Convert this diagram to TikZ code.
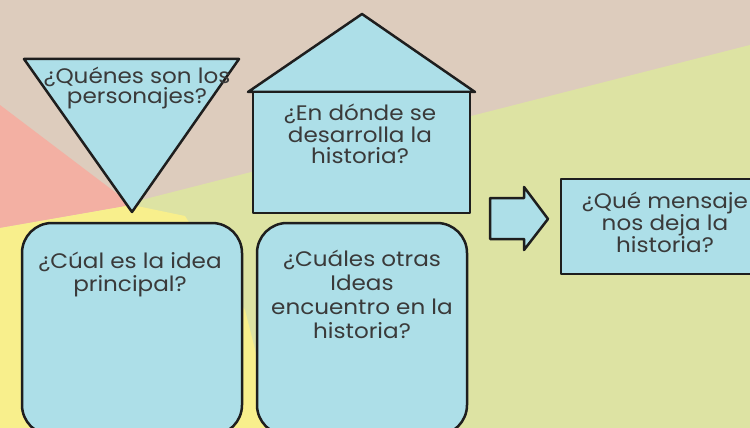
\documentclass[tikz,border=0pt]{standalone}
\usepackage{fontspec}
\setmainfont{Poppins}[FakeStretch=1.1]
\definecolor{bgBeige}{HTML}{DDCCBD}
\definecolor{bgGreen}{HTML}{DDE3A3}
\definecolor{bgPink}{HTML}{F3B0A3}
\definecolor{bgYellow}{HTML}{F8EF8C}
\definecolor{boxBlue}{HTML}{ADDFE8}
\definecolor{inkGray}{HTML}{1E1E1E}
\definecolor{textGray}{HTML}{3A3A3A}
\begin{document}
\begin{tikzpicture}
  [
    x=1pt, y=-1pt,
    line cap=round, line join=round,
    card/.style={draw=inkGray, line width=2.5pt, fill=boxBlue},
    txt/.style={text=textGray, align=center, inner sep=0pt,
      font=\fontsize{21}{21}\selectfont},
  ]

\useasboundingbox (0,0) rectangle (750,428);
\clip (0,0) rectangle (750,428);

% background
\fill[bgBeige] (0,0) rectangle (750,428);
\fill[bgGreen] (750,45) -- (750,428) -- (0,428) -- (0,236) -- cycle;
\fill[bgPink] (0,105) -- (132,205) -- (0,228) -- cycle;
\fill[bgYellow] (0,228) -- (132,205) -- (185,216) -- (245,310) -- (275,428) -- (0,428) -- cycle;

\def\rad{30pt}

% personajes
\coordinate (triNW) at (24,59);
\coordinate (triNE) at (239,59);
\coordinate (triS) at (132,212);
\draw[card] (triNW) -- (triNE) -- (triS) -- cycle;
\node[txt, font=\fontsize{21}{20}\selectfont] (personajes) at (137,88) {¿Quénes son los\\personajes?};

% lugar
\coordinate (roof) at (362,14);
\draw[card] (248,92) -- (roof) -- (475,92) -- cycle;
\draw[card] (253,92) rectangle (470,213);
\node[txt, font=\fontsize{21}{21.5}\selectfont] (lugar) at (360,134) {¿En dónde se\\desarrolla la\\historia?};

% ideas
\draw[card, rounded corners=\rad] (22,223) rectangle (242,435);
\node[txt, font=\fontsize{21}{23}\selectfont] (idea) at (130,275) {¿Cúal es la idea\\principal?};
\draw[card, rounded corners=\rad] (257,223) rectangle (467,435);
\node[txt, font=\fontsize{21}{24}\selectfont] (otras) at (362,294) {¿Cuáles otras\\Ideas\\encuentro en la\\historia?};

% mensaje
\draw[card] (490,198) -- (524,198) -- (524,187) -- (548,219) -- (524,250) -- (524,239) -- (490,239) -- cycle;
\draw[card] (561,179) rectangle (760,274);
\node[txt, font=\fontsize{21}{22}\selectfont] (mensaje) at (665,222) {¿Qué mensaje\\nos deja la\\historia?};

\end{tikzpicture}
\end{document}
